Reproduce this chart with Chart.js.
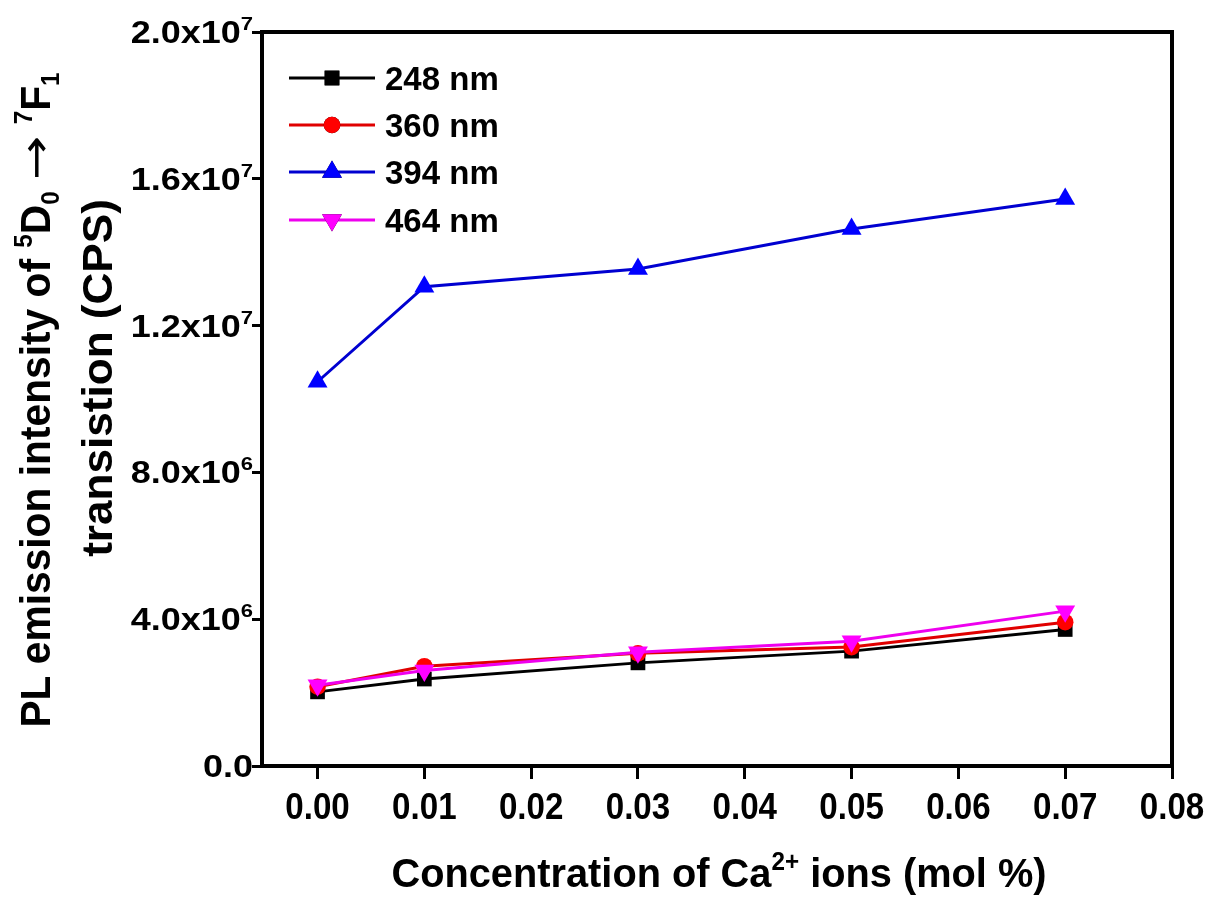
<!DOCTYPE html>
<html>
<head>
<meta charset="utf-8">
<script src="https://cdn.jsdelivr.net/npm/chart.js@4.4.1/dist/chart.umd.min.js"></script>
<style>
  body { margin: 0; background: #fff; }
  #wrap { width: 1210px; height: 897px; }
</style>
</head>
<body>
<div id="wrap"><canvas id="myChart" width="1210" height="897"></canvas></div>
<script>
// data
var concentration = [0.00, 0.01, 0.03, 0.05, 0.07];
var seriesNames = ['248 nm', '360 nm', '394 nm', '464 nm'];
var int248 = [2.02e6, 2.37e6, 2.81e6, 3.13e6, 3.72e6];
var int360 = [2.16e6, 2.72e6, 3.07e6, 3.24e6, 3.92e6];
var int394 = [1.047e7, 1.306e7, 1.354e7, 1.463e7, 1.545e7];
var int464 = [2.20e6, 2.60e6, 3.10e6, 3.40e6, 4.22e6];
var xTicks = [0.00, 0.01, 0.02, 0.03, 0.04, 0.05, 0.06, 0.07, 0.08];
var yTicks = [0, 4e6, 8e6, 1.2e7, 1.6e7, 2.0e7];

var FONT = '"Liberation Sans", Arial, "DejaVu Sans", sans-serif';

function pts(ys) {
  return concentration.map(function (x, i) { return { x: x, y: ys[i] }; });
}

// text built of normal / sup / sub parts
function partFont(p, size) {
  var s = p.s ? Math.round(size * 0.6) : size;
  return (p.w || 'bold') + ' ' + s + 'px ' + (p.fam || FONT);
}
function partWidth(ctx, p, size) {
  ctx.font = partFont(p, size);
  return ctx.measureText(p.t).width * (p.sx || 1);
}
function drawRich(ctx, parts, x, y, size, align, sx, rot) {
  ctx.save();
  ctx.translate(x, y);
  if (rot) ctx.rotate(rot);
  ctx.scale(sx, 1);
  var w = 0;
  parts.forEach(function (p) { w += partWidth(ctx, p, size); });
  var cx = align === 'center' ? -w / 2 : (align === 'right' ? -w : 0);
  ctx.textBaseline = 'alphabetic';
  ctx.textAlign = 'left';
  ctx.fillStyle = '#000';
  parts.forEach(function (p) {
    var pw = partWidth(ctx, p, size);
    var dy = p.s === 'sup' ? -size * 0.42 : (p.s === 'sub' ? size * 0.22 : 0);
    ctx.save();
    ctx.translate(cx, dy);
    ctx.scale(p.sx || 1, 1);
    ctx.font = partFont(p, size);
    ctx.fillText(p.t, 0, 0);
    ctx.restore();
    cx += pw;
  });
  ctx.restore();
}

function yLabelParts(v) {
  if (v === 0) return [{ t: '0.0' }];
  var e = Math.floor(Math.log10(v));
  var m = v / Math.pow(10, e);
  return [{ t: m.toFixed(1) + 'x10' }, { t: String(e), s: 'sup' }];
}

var paperPlugin = {
  id: 'paper',
  beforeDraw: function (chart) {
    var ctx = chart.ctx;
    ctx.save();
    ctx.fillStyle = '#fff';
    ctx.fillRect(0, 0, chart.width, chart.height);
    ctx.restore();
  },
  afterDraw: function (chart) {
    var ctx = chart.ctx, a = chart.chartArea;
    var xs = chart.scales.x, ys = chart.scales.y;

    // frame
    ctx.save();
    ctx.strokeStyle = '#000';
    ctx.lineWidth = 4;
    ctx.strokeRect(a.left, a.top, a.right - a.left, a.bottom - a.top);
    ctx.restore();

    // tick labels
    xTicks.forEach(function (v) {
      drawRich(ctx, [{ t: v.toFixed(2) }], xs.getPixelForValue(v), a.bottom + 53, 36, 'center', 0.92);
    });
    yTicks.forEach(function (v) {
      drawRich(ctx, yLabelParts(v), a.left - 9, ys.getPixelForValue(v) + 11, 31, 'right', 1.16);
    });

    // axis titles
    drawRich(ctx, [{ t: 'Concentration of Ca' }, { t: '2+', s: 'sup' }, { t: ' ions (mol %)' }],
      (a.left + a.right) / 2 + 2, 887, 41, 'center', 0.97);
    drawRich(ctx, [{ t: 'PL emission intensity of ' }, { t: '5', s: 'sup' }, { t: 'D' }, { t: '0', s: 'sub' },
      { t: ' ' }, { t: '\u2192', w: 'normal', fam: '"DejaVu Sans"', sx: 1.3 }, { t: ' ' },
      { t: '7', s: 'sup' }, { t: 'F' }, { t: '1', s: 'sub' }],
      50, 400, 42, 'center', 0.97, -Math.PI / 2);
    drawRich(ctx, [{ t: 'transistion (CPS)' }], 112, 378, 42, 'center', 1.05, -Math.PI / 2);

    // legend
    var rowY = [78, 125, 172, 220];
    chart.data.datasets.forEach(function (ds, i) {
      var y = rowY[i];
      ctx.save();
      ctx.strokeStyle = ds.borderColor;
      ctx.lineWidth = 3;
      ctx.beginPath();
      ctx.moveTo(289, y);
      ctx.lineTo(375, y);
      ctx.stroke();
      Chart.helpers.drawPoint(ctx, {
        pointStyle: ds.pointStyle, rotation: ds.pointRotation || 0, radius: ds.pointRadius, borderWidth: 0
      }, 332, y);
      ctx.fillStyle = ds.pointBackgroundColor;
      ctx.fill();
      ctx.restore();
      drawRich(ctx, [{ t: ds.label }], 385, y + 12, 33, 'left', 1);
    });
  }
};

function makeSet(label, data, line, fill, style, radius, rot, order) {
  return {
    label: label,
    data: pts(data),
    borderColor: line,
    borderWidth: 3,
    backgroundColor: fill,
    pointStyle: style,
    pointRadius: radius,
    pointRotation: rot,
    pointBackgroundColor: fill,
    pointBorderColor: fill,
    pointBorderWidth: 0,
    pointHoverRadius: radius,
    tension: 0,
    fill: false,
    order: order
  };
}

var myData = {
  datasets: [
    makeSet(seriesNames[0], int248, '#000000', '#000000', 'rect', 10.4, 0, 4),
    makeSet(seriesNames[1], int360, '#e00000', '#ff0000', 'circle', 8.3, 0, 3),
    makeSet(seriesNames[2], int394, '#0000d0', '#0000ff', 'triangle', 11.5, 0, 2),
    makeSet(seriesNames[3], int464, '#ee00ee', '#ff00ff', 'triangle', 11.5, 180, 1)
  ]
};

var myConfig = {
  type: 'line',
  data: myData,
  options: {
    responsive: false,
    animation: false,
    events: [],
    layout: { padding: { top: 32, right: 38, left: 0, bottom: 0 } },
    plugins: { legend: { display: false }, tooltip: { enabled: false } },
    scales: {
      x: {
        type: 'linear',
        min: -0.0052,
        max: 0.08,
        afterBuildTicks: function (s) { s.ticks = xTicks.map(function (v) { return { value: v }; }); },
        afterFit: function (s) { s.height = 131; },
        border: { display: false },
        grid: { drawOnChartArea: false, drawTicks: true, tickLength: 13, tickWidth: 3, tickColor: '#000' },
        ticks: { color: 'rgba(0,0,0,0)', autoSkip: false, maxRotation: 0 }
      },
      y: {
        type: 'linear',
        min: 0,
        max: 2.0e7,
        afterBuildTicks: function (s) { s.ticks = yTicks.map(function (v) { return { value: v }; }); },
        afterFit: function (s) { s.width = 262; },
        border: { display: false },
        grid: { drawOnChartArea: false, drawTicks: true, tickLength: 10, tickWidth: 3, tickColor: '#000' },
        ticks: { color: 'rgba(0,0,0,0)', autoSkip: false }
      }
    }
  },
  plugins: [paperPlugin]
};

var ctx1 = document.getElementById('myChart').getContext('2d');
var plChart = new Chart(ctx1, myConfig);
</script>
</body>
</html>
